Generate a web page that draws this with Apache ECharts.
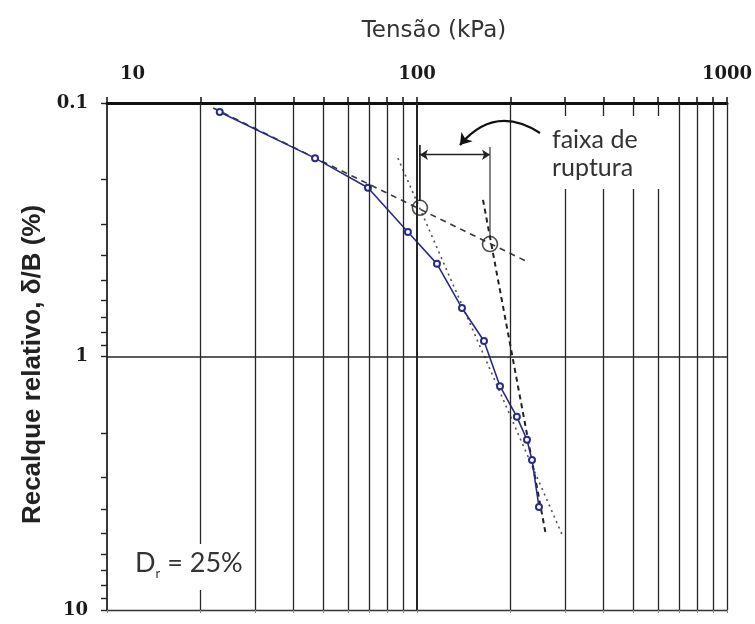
<!DOCTYPE html>
<html>
<head>
<meta charset="utf-8">
<script src="https://cdn.jsdelivr.net/npm/echarts@6/dist/echarts.min.js"></script>
<style>
  html, body { margin: 0; padding: 0; background: #fff; }
  #chart { width: 755px; height: 624px; }
</style>
</head>
<body>
<div id="chart"></div>
<script>
// Axis divisions (log scales)
const tensaoTicks = [10, 20, 30, 40, 50, 60, 70, 80, 90, 100, 200, 300, 400, 500, 600, 700, 800, 900, 1000];
const tensaoLabels = [10, 100, 1000];
const recalqueTicks = [0.1, 0.2, 0.3, 0.4, 0.5, 0.6, 0.7, 0.8, 0.9, 1, 2, 3, 4, 5, 6, 7, 8, 9, 10];
const recalqueLabels = [0.1, 1, 10];

// Load test: stress (kPa) and relative settlement (%)
const tensao   = [23.1, 46.9, 69.5, 93.5, 116, 139.7, 164.5, 185.3, 210, 226.4, 235, 247.5];
const recalque = [0.1085, 0.165, 0.216, 0.323, 0.431, 0.644, 0.869, 1.31, 1.73, 2.13, 2.56, 3.92];

// Tangent lines used to bracket the failure range
const tangenteInicial = [[22.0, 0.1046], [228, 0.424]];
const tangenteMedia   = [[86.8, 0.165], [296, 5.15]];
const tangenteFinal   = [[163.3, 0.241], [260.6, 5.06]];
const intersecoes     = [[102.2, 0.259], [172, 0.36]];

// Failure range bracket
const faixaInicio = [[102.2, 0.1465], [102.2, 0.2435]];
const faixaFim    = [[172, 0.149], [172, 0.338]];
const faixaSeta   = [[102.2, 0.160], [172, 0.160]];
const setaCurva   = [[249.4, 0.1313], [137.6, 0.1465]];

const chart = echarts.init(document.getElementById('chart'), null, { renderer: 'canvas' });

const gridColor = '#262626';
const gridLines = tensaoTicks.filter(v => v !== 10).map(v => ({
  xAxis: v,
  lineStyle: { width: v === 100 ? 2 : 1.3 }
}));
gridLines.push({ yAxis: 1, lineStyle: { width: 1.5 } });

function fmtY(v) {
  return v < 1 ? Number(v).toFixed(1) : String(Math.round(v));
}

const tickFont = { fontFamily: 'DejaVu Serif', fontWeight: 'bold', fontSize: 18, color: '#1a1a1a' };

const option = {
  animation: false,
  backgroundColor: '#ffffff',
  grid: { left: 107, right: 28, top: 103, bottom: 14 },
  xAxis: [
    {
      type: 'log', logBase: 10, min: 10, max: 1000, position: 'top',
      name: 'Tensão (kPa)', nameLocation: 'middle', nameGap: 60,
      nameTextStyle: { fontFamily: 'DejaVu Sans', fontSize: 23, color: '#333', padding: [0, 0, 0, 34] },
      axisLine: { show: true, lineStyle: { color: '#111', width: 3 } },
      axisTick: { show: true, length: 6, customValues: tensaoTicks, lineStyle: { color: '#111', width: 1.5 } },
      axisLabel: Object.assign({
        customValues: tensaoLabels, margin: 20,
        alignMinLabel: 'left',
        formatter: v => (Math.round(v) === 10 ? '{first|10}' : String(Math.round(v))),
        rich: { first: Object.assign({ padding: [0, 0, 0, 13] }, tickFont) }
      }, tickFont),
      splitLine: { show: false }
    },
    {
      type: 'log', logBase: 10, min: 10, max: 1000, position: 'bottom',
      axisLine: { show: true, lineStyle: { color: '#333', width: 1.3 } },
      axisTick: { show: true, length: 3, customValues: tensaoTicks, lineStyle: { color: '#888', width: 1 } },
      axisLabel: { show: false },
      splitLine: { show: false }
    }
  ],
  yAxis: [
    {
      type: 'log', logBase: 10, min: 0.1, max: 10, inverse: true,
      name: 'Recalque relativo, δ/B (%)', nameLocation: 'middle', nameGap: 60, nameRotate: 90,
      nameTextStyle: { fontFamily: 'Liberation Sans', fontWeight: 'bold', fontSize: 26, color: '#222', padding: [0, 16, 0, 0] },
      axisLine: { show: true, lineStyle: { color: '#222', width: 1.8 } },
      axisTick: { show: true, length: 6, customValues: recalqueTicks, lineStyle: { color: '#222', width: 1.4 } },
      axisLabel: Object.assign({
        customValues: recalqueLabels, margin: 19,
        formatter: fmtY
      }, tickFont),
      splitLine: { show: false }
    }
  ],
  series: [
    {
      name: 'grade', type: 'line', data: [], silent: true,
      markLine: {
        silent: true, symbol: ['none', 'none'], label: { show: false },
        lineStyle: { type: 'solid', color: gridColor, width: 1.3 },
        data: gridLines
      }
    },
    {
      name: 'tangente inicial', type: 'line', data: tangenteInicial, symbol: 'none', z: 3,
      lineStyle: { color: '#3a3a3a', width: 1.6, type: [6, 5] }
    },
    {
      name: 'tangente média', type: 'line', data: tangenteMedia, symbol: 'none', z: 3,
      lineStyle: { color: '#555', width: 1.6, type: [2, 4] }
    },
    {
      name: 'tangente final', type: 'line', data: tangenteFinal, symbol: 'none', z: 3,
      lineStyle: { color: '#222', width: 2, type: [5, 4] }
    },
    {
      name: 'ensaio', type: 'line', z: 4,
      data: tensao.map((t, i) => [t, recalque[i]]),
      symbol: 'emptyCircle', symbolSize: 6,
      lineStyle: { color: '#2b2b8e', width: 1.6 },
      itemStyle: { color: '#2b2b8e', borderWidth: 1.2 }
    },
    {
      name: 'interseções', type: 'scatter', z: 5, data: intersecoes,
      symbol: 'circle', symbolSize: 15,
      itemStyle: { color: 'rgba(255,255,255,0)', borderColor: '#222', borderWidth: 1.6 }
    },
    {
      name: 'limite inferior', type: 'line', data: faixaInicio, symbol: 'none', z: 5,
      lineStyle: { color: '#111', width: 1.6 }
    },
    {
      name: 'limite superior', type: 'line', data: faixaFim, symbol: 'none', z: 5,
      lineStyle: { color: '#444', width: 1.3 }
    },
    {
      name: 'faixa', type: 'lines', coordinateSystem: 'cartesian2d', z: 5,
      symbol: ['arrow', 'arrow'], symbolSize: 8,
      lineStyle: { color: '#222', width: 1.4, curveness: 0, opacity: 1 },
      data: [{ coords: faixaSeta }]
    },
    {
      name: 'indicação', type: 'lines', coordinateSystem: 'cartesian2d', z: 5,
      symbol: ['none', 'arrow'], symbolSize: 11,
      lineStyle: { color: '#111', width: 2.2, curveness: -0.44, opacity: 1 },
      data: [{ coords: setaCurva }]
    }
  ],
  graphic: [
    { type: 'rect', z: 10, shape: { x: 546, y: 116, width: 122, height: 73 }, style: { fill: '#fff' } },
    {
      type: 'text', z: 11, left: 552, top: 126,
      style: { text: 'faixa de\nruptura', fontFamily: 'Lato', fontSize: 25, lineHeight: 28, fill: '#333' }
    },
    { type: 'rect', z: 10, shape: { x: 130, y: 544, width: 115, height: 46 }, style: { fill: '#fff' } },
    {
      type: 'text', z: 11, left: 135, top: 550,
      style: {
        text: '{d|D}{s|r}{t| = 25%}',
        rich: {
          d: { fontFamily: 'Lato', fontSize: 27, lineHeight: 34, fill: '#333', verticalAlign: 'middle' },
          s: { fontFamily: 'Lato', fontSize: 13, lineHeight: 14, fill: '#333', verticalAlign: 'bottom' },
          t: { fontFamily: 'Lato', fontSize: 27, lineHeight: 34, fill: '#333', verticalAlign: 'middle' }
        }
      }
    }
  ]
};

chart.setOption(option);
</script>
</body>
</html>
